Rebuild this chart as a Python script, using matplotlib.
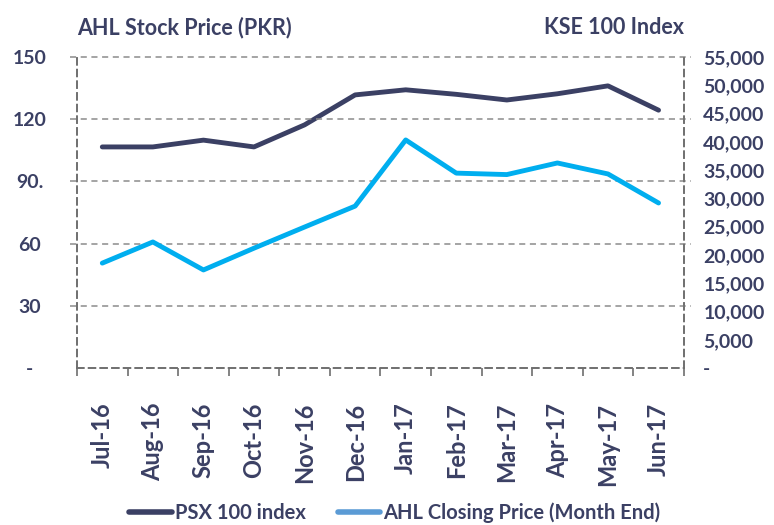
import matplotlib
matplotlib.use("Agg")
import matplotlib.pyplot as plt
from matplotlib.lines import Line2D
from matplotlib.ticker import FixedLocator

months = ["Jul-16", "Aug-16", "Sep-16", "Oct-16", "Nov-16", "Dec-16",
          "Jan-17", "Feb-17", "Mar-17", "Apr-17", "May-17", "Jun-17"]
psx_index = [39100, 39100, 40300, 39100, 43000, 48300,
             49200, 48400, 47400, 48500, 49900, 45600]
ahl_price = [50.6, 60.8, 47.3, 57.8, 68.0, 78.1,
             110.0, 94.0, 93.3, 98.9, 93.6, 79.6]
left_ticks = [0, 30, 60, 90, 120, 150]
left_labels = ["-", "30", "60", "90.", "120", "150"]
right_ticks = list(range(0, 55001, 5000))
right_labels = ["-"] + [f"{v:,}" for v in right_ticks[1:]]

navy = "#3b4064"
blue = "#00aeef"
legend_blue = "#5b9bd5"
gridc = "#8c8c8c"
txt = "#3b4064"
font = "Lato"
wt = "bold"

fig = plt.figure(figsize=(7.74, 5.25), dpi=100)
ax = fig.add_axes([0.0995, 0.299, 0.784, 0.5924])
ax2 = ax.twinx()

x = list(range(len(months)))
ax.set_xlim(-0.5, len(months) - 0.5)
ax.set_ylim(0, 150)
ax2.set_ylim(0, 55000)

ax2.plot(x, psx_index, color=navy, lw=3.5, solid_capstyle="round", zorder=3)
ax.plot(x, ahl_price, color=blue, lw=3.5, solid_capstyle="round", zorder=3)
ax.set_zorder(ax2.get_zorder() + 1)
ax.patch.set_visible(False)

# grid
for v in left_ticks[1:]:
    ax.axhline(v, xmin=-0.012, xmax=1.012, color=gridc, lw=1.1,
               ls=(0, (4, 3)), zorder=1, clip_on=False)

for a in (ax, ax2):
    for s in a.spines.values():
        s.set_color("#6e6e6e")
        s.set_linestyle((0, (4, 3)))
        s.set_linewidth(1.2)
    a.spines["top"].set_visible(False)

ax.set_yticks(left_ticks)
ax.set_yticklabels(left_labels)
ax2.set_yticks(right_ticks)
ax2.set_yticklabels(right_labels)
ax.tick_params(axis="y", length=0, pad=34, labelsize=14, labelcolor=txt)
for lab in ax.get_yticklabels():
    lab.set_horizontalalignment("center")
ax2.tick_params(axis="y", length=0, pad=14, labelsize=14, labelcolor=txt)

ax.set_xticks(x)
ax.set_xticklabels(months, rotation=90, fontsize=17, color=txt)
ax.tick_params(axis="x", length=0, pad=25)
ax.xaxis.set_minor_locator(FixedLocator([i + 0.5 for i in range(-1, len(months))]))
ax.tick_params(axis="x", which="minor", length=6, color="#6e6e6e", width=1.2)

for lab in ax.get_xticklabels() + ax.get_yticklabels() + ax2.get_yticklabels():
    lab.set_fontfamily(font)
    lab.set_fontweight(wt)

fig.text(0.0995, 0.948, "AHL Stock Price (PKR)", fontsize=15.5, color=txt,
         family=font, weight=wt, ha="left", va="center")
fig.text(0.884, 0.948, "KSE 100 Index", fontsize=15.5, color=txt,
         family=font, weight=wt, ha="right", va="center")

handles = [Line2D([], [], color=navy, lw=4, solid_capstyle="round"),
           Line2D([], [], color=legend_blue, lw=4, solid_capstyle="round")]
fig.legend(handles, ["PSX 100 index", "AHL Closing Price (Month End)"],
           loc="center", bbox_to_anchor=(0.51, 0.023), ncol=2, frameon=False,
           prop={"family": font, "weight": wt, "size": 14.5},
           labelcolor=txt, handlelength=2.1, handletextpad=0.15, columnspacing=1.6)

fig.savefig("out.png", dpi=100)
